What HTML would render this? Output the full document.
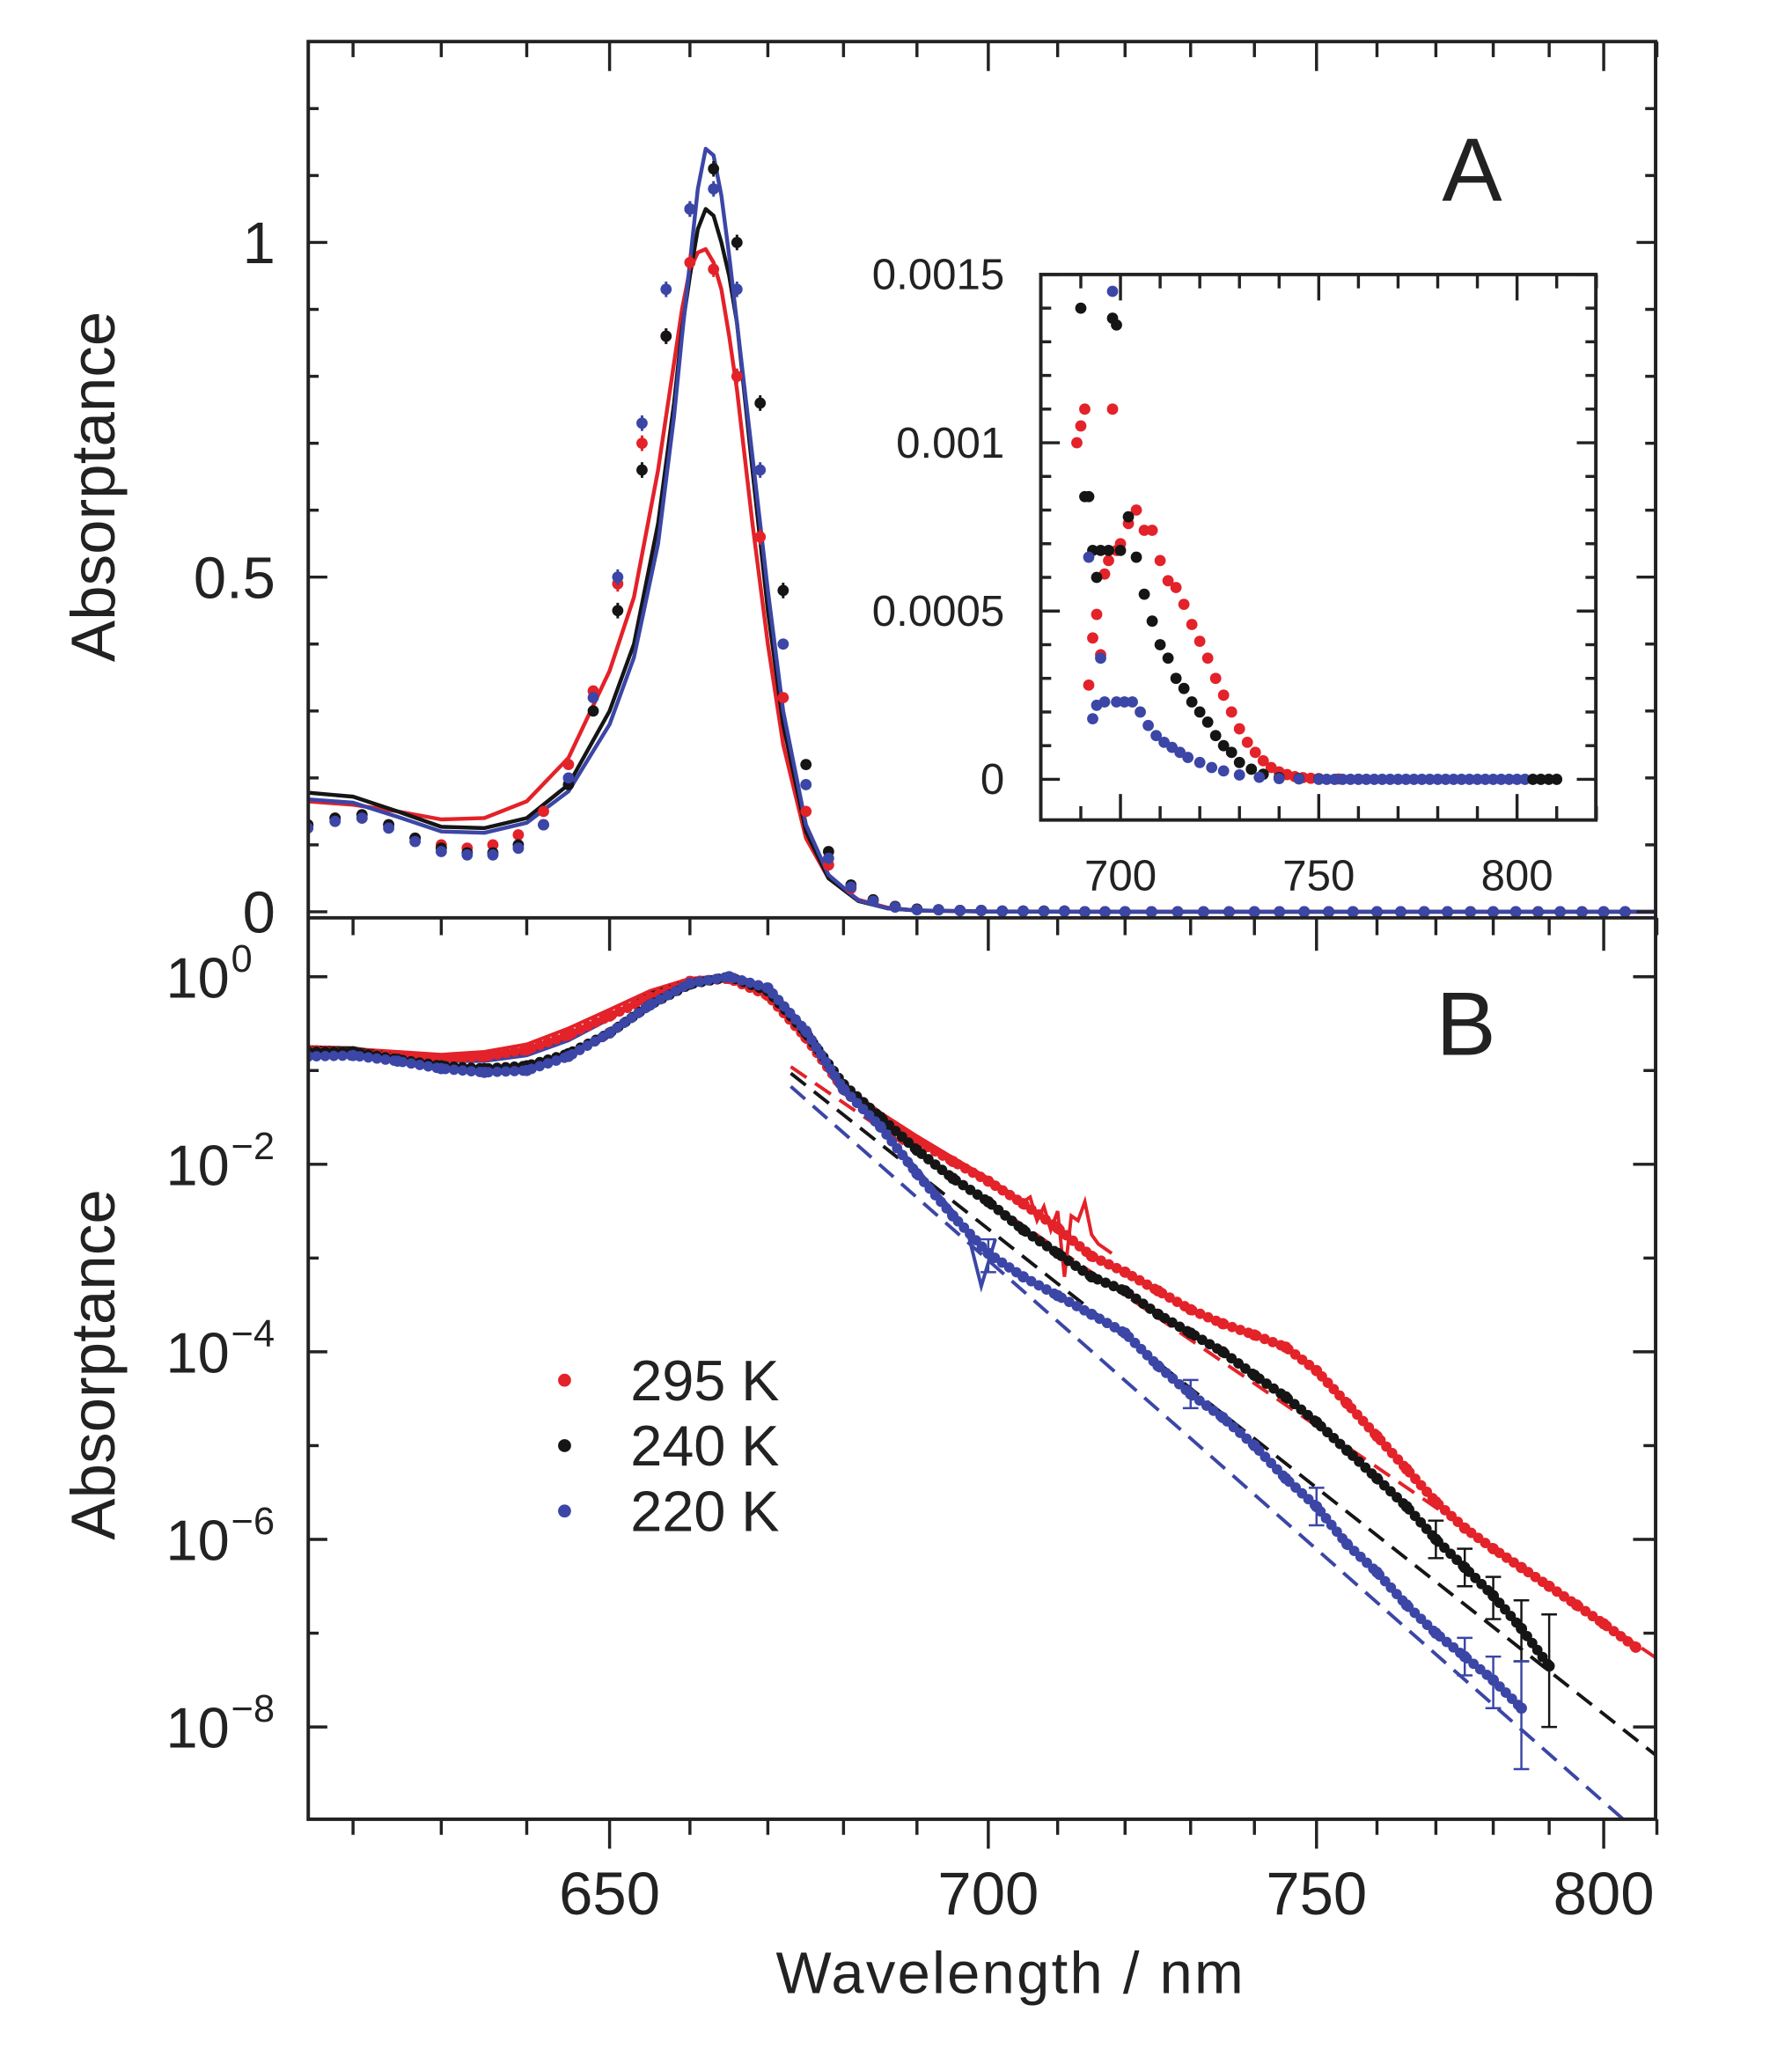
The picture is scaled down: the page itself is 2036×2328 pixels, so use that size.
<!DOCTYPE html>
<html><head><meta charset="utf-8"><style>
html,body{margin:0;padding:0;background:#fff;}
svg{display:block;font-family:"Liberation Sans",Arial,sans-serif;}
</style></head><body>
<svg id="chart" width="2036" height="2328" viewBox="0 0 2036 2328" xmlns="http://www.w3.org/2000/svg">
<defs>
<clipPath id="clipA"><rect x="356" y="48" width="1556" height="1012"/></clipPath>
<clipPath id="clipB"><rect x="356" y="1060" width="1556" height="1041"/></clipPath>
<clipPath id="clipI"><rect x="1202" y="317" width="641" height="630"/></clipPath>
</defs>
<g transform="scale(0.9838)">
<g id="gA"></g>
<g id="gB"></g>
<g id="gI"></g>
<g id="gF"></g>
</g>
</svg>
<script>
// ---------- data ----------
const aLineL=[615,620,625,630,635,640,645,650,653,656,658,659,660,661,662,663,664,665,666,668,670,672,675,678,682,686,690,700,720,760,810];
const aLineRed=[0.165,0.160,0.150,0.138,0.140,0.165,0.23,0.36,0.47,0.66,0.82,0.90,0.96,0.985,0.99,0.97,0.93,0.86,0.78,0.58,0.40,0.25,0.11,0.05,0.018,0.006,0.002,0.0005,0.0001,0,0];
const aLineBlack=[0.178,0.172,0.150,0.127,0.125,0.140,0.19,0.30,0.40,0.58,0.76,0.87,0.95,1.02,1.05,1.04,1.00,0.95,0.88,0.66,0.45,0.28,0.12,0.05,0.016,0.005,0.002,0.0003,0,0,0];
const aLineBlue=[0.168,0.163,0.142,0.120,0.118,0.133,0.18,0.28,0.38,0.55,0.74,0.86,0.97,1.08,1.14,1.13,1.07,0.98,0.88,0.68,0.48,0.30,0.13,0.055,0.017,0.005,0.002,0.0002,0,0,0];
const aDotL=[615,618,621,624,627,630,633,636,639,642,645,648,651,654,657,660,663,666,669,672,675,678,681,684,687,690];
const aDotRed=[0.13,0.14,0.14,0.13,0.11,0.10,0.095,0.10,0.115,0.15,0.22,0.33,0.49,0.70,0.86,0.97,0.96,0.80,0.56,0.32,0.15,0.07,0.035,0.017,0.008,0.004];
const aDotBlack=[0.13,0.14,0.145,0.13,0.11,0.095,0.088,0.088,0.10,0.13,0.19,0.30,0.45,0.66,0.86,1.05,1.11,1.00,0.76,0.48,0.22,0.09,0.04,0.018,0.008,0.004];
const aDotBlue=[0.125,0.135,0.14,0.125,0.105,0.09,0.085,0.085,0.095,0.13,0.20,0.32,0.50,0.73,0.93,1.05,1.08,0.93,0.66,0.40,0.19,0.08,0.037,0.016,0.007,0.003];
const aTailL=[693,696,699,702,705,708,711,714,717,720,724,728,732,736,740,744,748,752,756,760,764,768,772,776,780,784,788,792,796,800,804];
const aTailV=[0.003,0.002,0.002,0.001,0.001,0.001,0.001,0,0,0,0,0,0,0,0,0,0,0,0,0,0,0,0,0,0,0,0,0,0,0,0];
const aTicks=[0,0.5,1];
const aTickLabels=["0","0.5","1"];

const iRedL=[689,690,691,692,693,694,695,696,697,698,699,700,702,704,706,708,710,712,714,716,718,720,722,724,726,728,730,732,734,736,738,740,742,744,746,748,750,755,760];
const iRedV=[10,10.5,11,2.8,4.2,4.9,3.7,6.1,6.5,11,6.8,7.0,7.6,8.0,7.4,7.4,6.5,5.9,5.7,5.2,4.6,4.1,3.6,3.0,2.5,2.0,1.5,1.1,0.8,0.55,0.35,0.22,0.14,0.08,0.05,0.03,0.02,0.01,0.005];
const iBlackL=[690,691,692,693,694,695,697,698,699,700,702,704,706,708,710,712,714,716,718,720,722,724,726,728,730,733,736,740,745,750];
const iBlackV=[14,8.4,8.4,6.8,6.0,6.8,6.8,13.7,13.5,6.8,7.8,6.6,5.5,4.7,4.0,3.6,3.0,2.7,2.3,2.0,1.7,1.3,1.0,0.8,0.5,0.3,0.15,0.05,0.02,0.01];
const iBlueL=[692,693,694,695,696,698,699,701,703,705,707,709,711,713,715,717,720,723,726,730,735,740,745];
const iBlueV=[6.6,1.8,2.2,3.6,2.3,14.5,2.3,2.3,2.3,2.0,1.6,1.3,1.1,0.95,0.8,0.65,0.5,0.35,0.25,0.13,0.06,0.02,0.01];
const iTailL=[750,752,754,756,758,760,762,764,766,768,770,772,774,776,778,780,782,784,786,788,790,792,794,796,798,800,802,804,806,808,810];
const iTicks=[0,0.0005,0.001,0.0015];
const iTickLabels=["0","0.0005","0.001","0.0015"];
const iXTicks=[700,750,800];

const bDotL=[615,620,625,630,635,640,645,650,655,660,665,670,675,680,685,690,695,700,705,710,715,720,725,730,735,740,745,750,755,760,765,770,775,780,785,790,795,800,806];
const bDotRed=[-0.78,-0.8,-0.85,-0.88,-0.85,-0.78,-0.62,-0.42,-0.22,-0.05,-0.02,-0.2,-0.65,-1.2,-1.5,-1.75,-1.97,-2.18,-2.42,-2.68,-2.98,-3.15,-3.35,-3.55,-3.7,-3.82,-3.95,-4.2,-4.55,-4.9,-5.25,-5.6,-5.88,-6.1,-6.3,-6.5,-6.7,-6.9,-7.15];
const bDotLk=[615,620,625,630,635,640,645,650,655,660,665,670,675,680,685,690,695,700,705,710,715,720,725,730,735,740,745,750,755,760,765,770,775,780,785,790];
const bDotBlack=[-0.8,-0.8,-0.88,-0.95,-0.98,-0.95,-0.82,-0.6,-0.3,-0.08,0,-0.15,-0.6,-1.15,-1.5,-1.85,-2.15,-2.4,-2.7,-2.95,-3.2,-3.35,-3.6,-3.8,-4.0,-4.25,-4.48,-4.75,-5.05,-5.35,-5.65,-6.0,-6.3,-6.6,-6.95,-7.35];
const bDotLb=[615,620,625,630,635,640,645,650,655,660,665,670,675,680,685,690,695,700,705,710,715,720,725,730,735,740,745,750,755,760,765,770,775,780,785];
const bDotBlue=[-0.85,-0.84,-0.9,-0.98,-1.02,-1.0,-0.85,-0.6,-0.3,-0.07,0,-0.12,-0.58,-1.2,-1.6,-2.1,-2.55,-2.95,-3.2,-3.4,-3.6,-3.8,-4.15,-4.45,-4.7,-5.0,-5.35,-5.65,-6.05,-6.35,-6.7,-7.0,-7.25,-7.5,-7.8];
const bLineRedL=[615,620,625,630,635,640,645,650,655,660,663,666,670,675,680,685,690,695,700,703,705,706,707,708,709,710,711,712,713,714,715,716,718];
const bLineRed=[-0.75,-0.77,-0.8,-0.83,-0.8,-0.72,-0.55,-0.35,-0.15,-0.02,0,-0.03,-0.2,-0.62,-1.15,-1.45,-1.7,-1.93,-2.15,-2.3,-2.4,-2.35,-2.6,-2.45,-2.7,-2.5,-3.2,-2.55,-2.6,-2.4,-2.75,-2.85,-2.95];
const bLineBlackL=[615,620,625,630,635,640,645,650,655,660,663,666,670,675,680,685,690];
const bLineBlack=[-0.75,-0.76,-0.83,-0.88,-0.88,-0.82,-0.65,-0.42,-0.18,-0.03,0,-0.03,-0.22,-0.65,-1.15,-1.5,-1.85];
const bLineBlueL=[615,620,625,630,635,640,645,650,655,660,663,666,670,675,680,685,690,695,697,699,701];
const bLineBlue=[-0.77,-0.78,-0.85,-0.9,-0.9,-0.84,-0.68,-0.45,-0.2,-0.04,0,-0.03,-0.2,-0.62,-1.15,-1.6,-2.05,-2.5,-2.7,-3.3,-2.8];
const fitL=[673,810];
const fitRed=[-0.96,-7.27];
const fitBlack=[-1.03,-8.31];
const fitBlue=[-1.17,-9.3];
const errBlackL=[770,775,780,785,790];
const errBlackLo=[-6.2,-6.5,-6.85,-7.3,-8.0];
const errBlackHi=[-5.8,-6.1,-6.4,-6.65,-6.8];
const errBlueL=[700,730,750,775,780,785];
const errBlueLo=[-3.15,-4.6,-5.85,-7.45,-7.8,-8.45];
const errBlueHi=[-2.8,-4.3,-5.45,-7.05,-7.25,-7.3];
const bTicks=[0,-2,-4,-6,-8];
const bTickExp=["0","−2","−4","−6","−8"];
const xTicks=[650,700,750,800];
const legendLabels=["295 K","240 K","220 K"];

// ---------- scales ----------
const xw=l=>704+(1538.4615-1e6/l)*3.98;
const yA=v=>1053-v*773;
const yB=g=>1128-g*108.3;
const xi=l=>1294+(l-700)*4.58;
const yi=v=>900-v/0.0015*583;
const RED="#e32229",BLK="#151515",BLU="#3b46a6";
const NS="http://www.w3.org/2000/svg";
function mk(tag,attrs,parent){const e=document.createElementNS(NS,tag);for(const k in attrs)e.setAttribute(k,attrs[k]);parent.appendChild(e);return e;}
const gA=document.getElementById('gA'),gB=document.getElementById('gB'),gI=document.getElementById('gI'),gF=document.getElementById('gF');

// ---------- panel A ----------
const cA=mk('g',{'clip-path':'url(#clipA)'},gA);
function aLine(vals,col,name){
  const p=mk('polyline',{points:aLineL.map((l,i)=>xw(l)+','+yA(vals[i])).join(' '),fill:'none',stroke:col,'stroke-width':4.5,'stroke-linejoin':'round'},cA);
  
  
}
function aDots(L,vals,col,name){
  const g=mk('g',{fill:col},cA);
  
  
  L.forEach((l,i)=>{mk('circle',{cx:xw(l),cy:yA(vals[i]),r:6.5},g);
    if(vals[i]>0.4) mk('line',{x1:xw(l),x2:xw(l),y1:yA(vals[i])-9,y2:yA(vals[i])+9,stroke:col,'stroke-width':3},g);});
  aTailL.forEach((l,i)=>mk('circle',{cx:xw(l),cy:yA(aTailV[i]),r:6.5},g));
}
aLine(aLineRed,RED,'line-a-295k');aLine(aLineBlack,BLK,'line-a-240k');aLine(aLineBlue,BLU,'line-a-220k');
aDots(aDotL,aDotRed,RED,'dots-a-295k');aDots(aDotL,aDotBlack,BLK,'dots-a-240k');aDots(aDotL,aDotBlue,BLU,'dots-a-220k');

// ---------- panel B ----------
const cB=mk('g',{'clip-path':'url(#clipB)'},gB);
function bLine(L,vals,col,name){
  const p=mk('polyline',{points:L.map((l,i)=>xw(l)+','+yB(vals[i])).join(' '),fill:'none',stroke:col,'stroke-width':4},cB);
  
  
}
function bFit(vals,col,name){
  const p=mk('line',{x1:xw(fitL[0]),y1:yB(vals[0]),x2:xw(fitL[1]),y2:yB(vals[1]),stroke:col,'stroke-width':4,'stroke-dasharray':'22 12'},cB);
  
  
}
function bDots(L,vals,col,name){
  const g=mk('g',{},cB);
  
  
  mk('polyline',{points:L.map((l,i)=>xw(l)+','+yB(vals[i])).join(' '),fill:'none',stroke:col,'stroke-width':12,'stroke-linecap':'round','stroke-dasharray':'0 10'},g);
  L.forEach((l,i)=>mk('circle',{cx:xw(l),cy:yB(vals[i]),r:6.5,fill:col},g));
}
function bErr(L,lo,hi,col,name){
  const g=mk('g',{stroke:col,'stroke-width':2.5},cB);
  
  
  L.forEach((l,i)=>{const x=xw(l);mk('line',{x1:x,x2:x,y1:yB(lo[i]),y2:yB(hi[i])},g);
    mk('line',{x1:x-9,x2:x+9,y1:yB(lo[i]),y2:yB(lo[i])},g);mk('line',{x1:x-9,x2:x+9,y1:yB(hi[i]),y2:yB(hi[i])},g);});
}
bFit(fitRed,RED,'fit-295k');bFit(fitBlack,BLK,'fit-240k');bFit(fitBlue,BLU,'fit-220k');
bLine(bLineRedL,bLineRed,RED,'line-b-295k');bLine(bLineBlackL,bLineBlack,BLK,'line-b-240k');bLine(bLineBlueL,bLineBlue,BLU,'line-b-220k');
bDots(bDotL,bDotRed,RED,'dots-b-295k');bDots(bDotLk,bDotBlack,BLK,'dots-b-240k');bDots(bDotLb,bDotBlue,BLU,'dots-b-220k');
bErr(errBlackL,errBlackLo,errBlackHi,BLK,'errorbars-240k');bErr(errBlueL,errBlueLo,errBlueHi,BLU,'errorbars-220k');

// ---------- inset ----------
mk('rect',{x:1202,y:317,width:641,height:630,fill:'#fff',stroke:'none'},gI);
const cI=mk('g',{'clip-path':'url(#clipI)'},gI);
function iDots(L,vals,col,name){
  const g=mk('g',{fill:col},cI);
  
  
  L.forEach((l,i)=>mk('circle',{cx:xi(l),cy:yi(vals[i]*1e-4),r:6.5},g));
}
iDots(iRedL,iRedV,RED,'inset-dots-295k');iDots(iBlackL,iBlackV,BLK,'inset-dots-240k');iDots(iBlueL,iBlueV,BLU,'inset-dots-220k');
(function(){const gt=mk('g',{},cI);
 
 
 iTailL.forEach(l=>mk('circle',{cx:xi(l),cy:yi(0),r:6.5,fill:l>802?BLK:BLU},gt));})();
mk('rect',{x:1202,y:317,width:641,height:630,fill:'none',stroke:'#222','stroke-width':4},gI);
for(let l=690;l<=820;l+=10){const M=(l%50===0);const x=xi(l);
  mk('line',{x1:x,x2:x,y1:317,y2:317+(M?30:16),stroke:'#222','stroke-width':3.5},gI);
  mk('line',{x1:x,x2:x,y1:947,y2:947-(M?30:16),stroke:'#222','stroke-width':3.5},gI);}
for(let k=0;k<=15;k++){const v=k*0.0001;const M=(k%5===0);const y=yi(v);
  mk('line',{x1:1202,x2:1202+(M?22:12),y1:y,y2:y,stroke:'#222','stroke-width':3.5},gI);
  mk('line',{x1:1843,x2:1843-(M?22:12),y1:y,y2:y,stroke:'#222','stroke-width':3.5},gI);}
iTicks.forEach((v,i)=>{const t=mk('text',{x:1160,y:yi(v)+17,'font-size':50,'text-anchor':'end',fill:'#222'},gI);t.textContent=iTickLabels[i];
  
  });
iXTicks.forEach(l=>{const t=mk('text',{x:xi(l),y:1028,'font-size':50,'text-anchor':'middle',fill:'#222'},gI);t.textContent=l;
  
  });

// ---------- frames & axes ----------
const S='#222';
mk('rect',{x:356,y:48,width:1556,height:2053,fill:'none',stroke:S,'stroke-width':4},gF);
mk('line',{x1:356,x2:1912,y1:1060,y2:1060,stroke:S,'stroke-width':4},gF);
for(let l=620;l<=810;l+=10){const M=(l%50===0);const x=xw(l);
  mk('line',{x1:x,x2:x,y1:48,y2:48+(M?34:18),stroke:S,'stroke-width':3.5},gF);
  mk('line',{x1:x,x2:x,y1:1060,y2:1060+(M?38:20),stroke:S,'stroke-width':3.5},gF);
  mk('line',{x1:x,x2:x,y1:2101,y2:2101+(M?34:18),stroke:S,'stroke-width':3.5},gF);}
for(let k=0;k<=12;k++){const v=k*0.1;const M=(k%5===0);const y=yA(v);
  mk('line',{x1:356,x2:356+(M?22:12),y1:y,y2:y,stroke:S,'stroke-width':3.5},gF);
  mk('line',{x1:1912,x2:1912-(M?22:12),y1:y,y2:y,stroke:S,'stroke-width':3.5},gF);}
for(let d=0;d>=-8;d--){const M=(d%2===0);const y=yB(d);
  mk('line',{x1:356,x2:356+(M?22:12),y1:y,y2:y,stroke:S,'stroke-width':3.5},gF);
  mk('line',{x1:1912,x2:1912-(M?26:14),y1:y,y2:y,stroke:S,'stroke-width':3.5},gF);}
aTicks.forEach((v,i)=>{const t=mk('text',{x:318,y:yA(v)+24,'font-size':68,'text-anchor':'end',fill:S},gF);t.textContent=aTickLabels[i];
  
  });
bTicks.forEach((d,i)=>{const t=mk('text',{x:265,y:yB(d)+24,'font-size':66,'text-anchor':'end',fill:S},gF);t.textContent='10';
  
  
  const s=mk('text',{x:267,y:yB(d)-6,'font-size':44,'text-anchor':'start',fill:S},gF);s.textContent=bTickExp[i];
  
  });
xTicks.forEach(l=>{const t=mk('text',{x:xw(l),y:2211,'font-size':70,'text-anchor':'middle',fill:S},gF);t.textContent=l;
  
  });
const xl=mk('text',{x:1166,y:2302,'font-size':68,'text-anchor':'middle',fill:S,textLength:540},gF);xl.textContent='Wavelength / nm';


[[562,'a-y-axis-title'],[1576,'b-y-axis-title']].forEach(([cy,n])=>{const t=mk('text',{x:0,y:0,'font-size':72,'text-anchor':'middle',fill:S,transform:`translate(132,${cy}) rotate(-90)`,textLength:405},gF);t.textContent='Absorptance';
  
  });
const la=mk('text',{x:1700,y:232,'font-size':104,'text-anchor':'middle',fill:S},gF);la.textContent='A';


const lb=mk('text',{x:1693,y:1218,'font-size':104,'text-anchor':'middle',fill:S},gF);lb.textContent='B';


// legend
const lg=mk('g',{},gF);


[RED,BLK,BLU].forEach((c,i)=>{const y=1594+i*75.5;
  const e=mk('g',{},lg);
  
  
  mk('circle',{cx:652,cy:y,r:7.5,fill:c},e);
  const t=mk('text',{x:728,y:y+23,'font-size':66,fill:S,textLength:172},e);t.textContent=legendLabels[i];});
</script>
</body></html>
